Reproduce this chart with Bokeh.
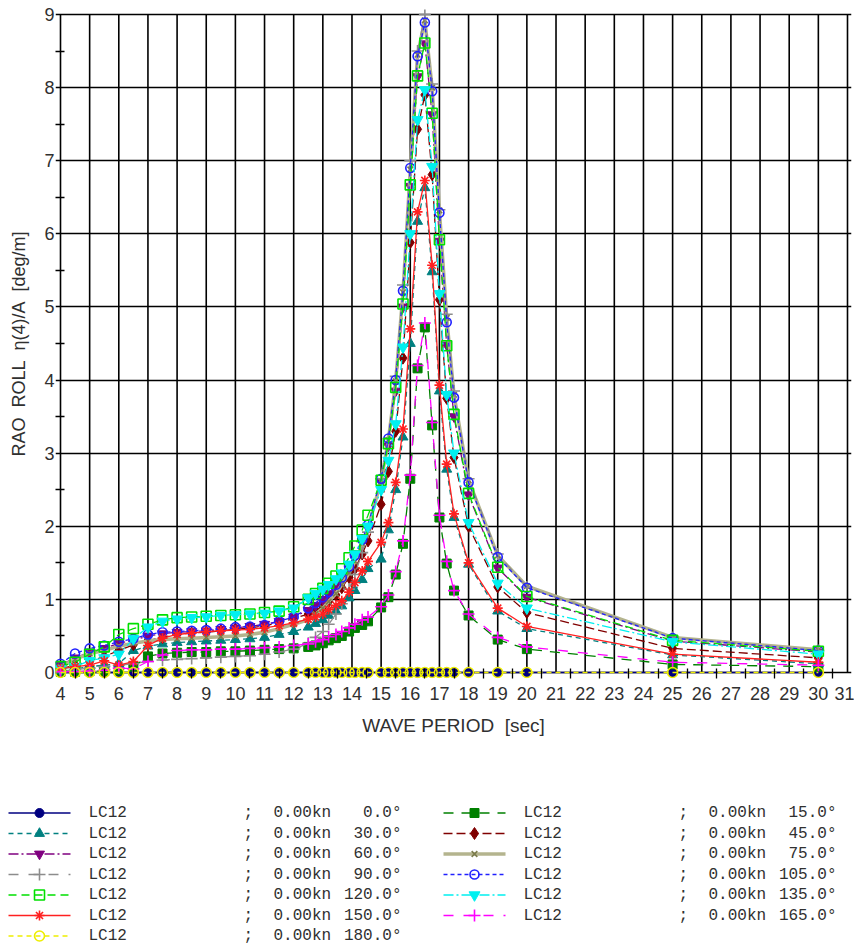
from bokeh.plotting import figure
from bokeh.models import Range1d, FixedTicker
from bokeh.layouts import column
from bokeh.embed import file_html
from bokeh.resources import INLINE
from bokeh.core.properties import value

# ---------------- data ----------------
PERIOD = [4, 4.5, 5, 5.5, 6, 6.5, 7, 7.5, 8, 8.5, 9, 9.5, 10, 10.5, 11, 11.5, 12,
          12.5, 12.75, 13, 13.2, 13.45, 13.65, 13.9, 14.1, 14.35, 14.55,
          15, 15.25, 15.5, 15.75, 16, 16.25, 16.5, 16.75, 17, 17.25, 17.5,
          18, 19, 20, 25, 30]

RAO_000 = [0, 0, 0, 0, 0, 0, 0, 0, 0, 0, 0, 0, 0, 0, 0, 0, 0,
           0, 0, 0, 0, 0, 0, 0, 0, 0, 0,
           0, 0, 0, 0, 0, 0, 0, 0, 0, 0, 0,
           0, 0, 0, 0, 0]
RAO_015 = [0.01, 0.01, 0.02, 0.02, 0.03, 0.08, 0.22, 0.26, 0.27, 0.28, 0.28, 0.29, 0.29, 0.30, 0.31, 0.32, 0.33,
           0.35, 0.37, 0.40, 0.44, 0.47, 0.50, 0.56, 0.61, 0.65, 0.70,
           0.89, 1.03, 1.34, 1.76, 2.65, 4.16, 4.72, 3.38, 2.12, 1.49, 1.12,
           0.78, 0.45, 0.32, 0.11, 0.08]
RAO_030 = [0.03, 0.05, 0.08, 0.10, 0.12, 0.30, 0.36, 0.39, 0.41, 0.42, 0.43, 0.44, 0.45, 0.46, 0.48, 0.52, 0.56,
           0.62, 0.67, 0.72, 0.78, 0.84, 0.91, 1.02, 1.12, 1.27, 1.42,
           1.55, 1.95, 2.50, 3.22, 4.50, 6.17, 6.63, 5.48, 3.85, 2.78, 2.12,
           1.48, 0.84, 0.60, 0.24, 0.12]
RAO_045 = [0.05, 0.10, 0.15, 0.22, 0.30, 0.38, 0.44, 0.48, 0.52, 0.54, 0.55, 0.57, 0.59, 0.61, 0.64, 0.68, 0.74,
           0.80, 0.85, 0.90, 0.97, 1.06, 1.16, 1.30, 1.42, 1.62, 1.80,
           2.30, 2.75, 3.30, 4.30, 5.88, 7.43, 7.90, 6.81, 5.10, 3.75, 2.94,
           2.00, 1.17, 0.82, 0.33, 0.20]
RAO_060 = [0.10, 0.20, 0.28, 0.33, 0.40, 0.44, 0.50, 0.53, 0.55, 0.56, 0.57, 0.59, 0.61, 0.63, 0.66, 0.70, 0.76,
           0.85, 0.92, 1.00, 1.08, 1.18, 1.28, 1.42, 1.58, 1.80, 2.00,
           2.60, 3.10, 3.85, 5.00, 6.65, 8.15, 8.60, 7.63, 5.90, 4.48, 3.50,
           2.43, 1.43, 1.03, 0.43, 0.28]
RAO_075 = [0.08, 0.18, 0.26, 0.30, 0.36, 0.40, 0.43, 0.45, 0.46, 0.47, 0.48, 0.49, 0.50, 0.52, 0.55, 0.60, 0.66,
           0.72, 0.80, 0.88, 0.97, 1.08, 1.20, 1.36, 1.52, 1.76, 1.98,
           2.62, 3.18, 3.98, 5.20, 6.88, 8.45, 8.92, 8.00, 6.32, 4.85, 3.80,
           2.63, 1.60, 1.18, 0.48, 0.31]
RAO_090 = [0.02, 0.04, 0.06, 0.08, 0.10, 0.12, 0.15, 0.17, 0.18, 0.19, 0.20, 0.21, 0.22, 0.23, 0.25, 0.28, 0.32,
           0.40, 0.48, 0.56, 0.66, 0.80, 0.94, 1.14, 1.34, 1.64, 1.92,
           2.65, 3.20, 4.05, 5.30, 7.00, 8.50, 9.00, 8.05, 6.33, 4.90, 3.85,
           2.65, 1.62, 1.17, 0.48, 0.30]
RAO_105 = [0.12, 0.26, 0.33, 0.37, 0.42, 0.46, 0.52, 0.55, 0.56, 0.57, 0.58, 0.60, 0.62, 0.63, 0.65, 0.70, 0.76,
           0.88, 0.95, 1.03, 1.10, 1.20, 1.30, 1.45, 1.60, 1.82, 2.02,
           2.65, 3.20, 4.00, 5.22, 6.90, 8.43, 8.89, 7.95, 6.29, 4.79, 3.76,
           2.60, 1.58, 1.16, 0.47, 0.30]
RAO_120 = [0.08, 0.14, 0.25, 0.35, 0.52, 0.60, 0.66, 0.72, 0.75, 0.76, 0.77, 0.78, 0.79, 0.80, 0.82, 0.84, 0.90,
           1.00, 1.08, 1.15, 1.22, 1.32, 1.42, 1.57, 1.73, 1.95, 2.15,
           2.63, 3.13, 3.90, 5.04, 6.67, 8.16, 8.61, 7.65, 5.92, 4.47, 3.53,
           2.45, 1.44, 1.04, 0.44, 0.29]
RAO_135 = [0.05, 0.08, 0.16, 0.20, 0.25, 0.46, 0.62, 0.70, 0.73, 0.75, 0.76, 0.78, 0.79, 0.80, 0.81, 0.84, 0.88,
           1.02, 1.08, 1.14, 1.20, 1.28, 1.36, 1.48, 1.62, 1.83, 2.00,
           2.50, 2.90, 3.40, 4.45, 6.00, 7.56, 7.97, 6.92, 5.18, 3.80, 3.00,
           2.05, 1.22, 0.88, 0.42, 0.25]
RAO_150 = [0.05, 0.08, 0.10, 0.16, 0.10, 0.15, 0.37, 0.47, 0.52, 0.54, 0.56, 0.57, 0.58, 0.59, 0.61, 0.64, 0.68,
           0.73, 0.76, 0.80, 0.86, 0.92, 0.98, 1.10, 1.23, 1.39, 1.52,
           1.78, 2.05, 2.60, 3.33, 4.70, 6.30, 6.73, 5.57, 3.93, 2.85, 2.17,
           1.50, 0.88, 0.63, 0.25, 0.14]
RAO_165 = [0.01, 0.01, 0.02, 0.03, 0.06, 0.05, 0.15, 0.24, 0.30, 0.31, 0.31, 0.32, 0.32, 0.33, 0.34, 0.35, 0.37,
           0.39, 0.42, 0.45, 0.49, 0.52, 0.56, 0.61, 0.66, 0.72, 0.76,
           0.90, 1.06, 1.38, 1.80, 2.70, 4.20, 4.78, 3.42, 2.15, 1.52, 1.12,
           0.80, 0.48, 0.35, 0.14, 0.10]
RAO_180 = [0, 0, 0, 0, 0, 0, 0, 0, 0, 0, 0, 0, 0, 0, 0, 0, 0,
           0, 0, 0, 0, 0, 0, 0, 0, 0, 0,
           0, 0, 0, 0, 0, 0, 0, 0, 0, 0, 0,
           0, 0, 0, 0, 0]

HEADINGS = [0, 15, 30, 45, 60, 75, 90, 105, 120, 135, 150, 165, 180]
SERIES = [RAO_000, RAO_015, RAO_030, RAO_045, RAO_060, RAO_075, RAO_090,
          RAO_105, RAO_120, RAO_135, RAO_150, RAO_165, RAO_180]
CASE_NAME = "LC12"
SPEED = "0.00kn"
LEG_LEFT = [0, 30, 60, 90, 120, 150, 180]
LEG_RIGHT = [15, 45, 75, 105, 135, 165]

X_TICKS = list(range(4, 32))
X_MINOR = [t + 0.5 for t in range(4, 31)]
Y_TICKS = list(range(0, 10))
Y_MINOR = [t + 0.5 for t in range(0, 9)]
X_LABEL = "WAVE PERIOD\u00a0 [sec]"
Y_LABEL = "RAO\u00a0 ROLL\u00a0 \u03b7(4)/A\u00a0 [deg/m]"

# ---------------- styles ----------------
STYLE = {
    0:   dict(color="#000080", dash="solid",    lw=1.3, marker="circle",            size=9,  fill=True),
    15:  dict(color="#008000", dash="10 8",     lw=1.3, marker="square",            size=9,  fill=True),
    30:  dict(color="#008080", dash="5 4",      lw=1.3, marker="triangle",          size=10, fill=True),
    45:  dict(color="#800000", dash="9 4",      lw=1.3, marker="diamond",           size=12, fill=True),
    60:  dict(color="#800080", dash="10 3 2 3", lw=1.3, marker="inverted_triangle", size=10, fill=True),
    75:  dict(color="#b4b48e", dash="solid",    lw=3.5, marker="x",                 size=8,  fill=False, mcolor="#7c7c4c"),
    90:  dict(color="#8c8c8c", dash="10 10",    lw=1.3, marker="cross",             size=12, fill=False),
    105: dict(color="#2020ff", dash="4 3",      lw=1.3, marker="circle",            size=9,  fill=False),
    120: dict(color="#00e000", dash="8 5",      lw=1.3, marker="square",            size=10, fill=False),
    135: dict(color="#00f0f0", dash="10 3 2 3", lw=1.3, marker="inverted_triangle", size=11, fill=True),
    150: dict(color="#ff2020", dash="solid",    lw=1.3, marker="asterisk",          size=10, fill=False),
    165: dict(color="#ff00ff", dash="10 10",    lw=1.3, marker="cross",             size=12, fill=False),
    180: dict(color="#eeee00", dash="5 4",      lw=1.5, marker="circle",            size=10, fill=False),
}

TXT = "#303030"
FONT = "Liberation Sans"
MONO = "Liberation Mono"

# ---------------- main figure ----------------
W, H = 854, 768
BL, BR, BT, BB = 55, 3, 9, 90
PAD_L, PAD_R, PAD_T, PAD_B = 5, 4, 5, 6
fw = W - BL - BR
fh = H - BT - BB
ux = (fw - PAD_L - PAD_R) / (X_TICKS[-1] - X_TICKS[0])
uy = (fh - PAD_T - PAD_B) / (Y_TICKS[-1] - Y_TICKS[0])

p = figure(width=W, height=H,
           x_range=Range1d(X_TICKS[0] - PAD_L / ux, X_TICKS[-1] + PAD_R / ux),
           y_range=Range1d(Y_TICKS[0] - PAD_B / uy, Y_TICKS[-1] + PAD_T / uy),
           toolbar_location=None, output_backend="svg",
           min_border_left=BL, min_border_right=BR, min_border_top=BT, min_border_bottom=BB)
p.frame_align = False
p.outline_line_color = None
p.background_fill_color = "white"
p.border_fill_color = "white"

p.xgrid.visible = False
p.ygrid.ticker = FixedTicker(ticks=Y_TICKS)
p.ygrid.grid_line_color = "black"
p.ygrid.grid_line_width = 1.6

# vertical grid lines, bounded to the data frame 0..9
p.segment(x0=X_TICKS, y0=[Y_TICKS[0]] * len(X_TICKS), x1=X_TICKS, y1=[Y_TICKS[-1]] * len(X_TICKS),
          line_color="black", line_width=1.6)

xa = p.xaxis[0]
xa.ticker = FixedTicker(ticks=X_TICKS, minor_ticks=X_MINOR)
xa.axis_line_color = None
xa.major_tick_in = 0
xa.major_tick_out = 0
xa.minor_tick_in = 10
xa.minor_tick_out = 0
xa.minor_tick_line_color = "black"
xa.minor_tick_line_width = 1.3
xa.major_label_standoff = 8
xa.major_label_text_font = FONT
xa.major_label_text_font_size = "18px"
xa.major_label_text_color = TXT
xa.axis_label = X_LABEL
xa.axis_label_standoff = 12
xa.axis_label_text_font = FONT
xa.axis_label_text_font_size = "19px"
xa.axis_label_text_font_style = "normal"
xa.axis_label_text_color = TXT

ya = p.yaxis[0]
ya.ticker = FixedTicker(ticks=Y_TICKS, minor_ticks=Y_MINOR)
ya.axis_line_color = None
ya.major_tick_in = 0
ya.major_tick_out = 0
ya.minor_tick_in = 9
ya.minor_tick_out = 0
ya.minor_tick_line_color = "black"
ya.minor_tick_line_width = 1.3
ya.major_label_standoff = 1
ya.major_label_text_font = FONT
ya.major_label_text_font_size = "18px"
ya.major_label_text_color = TXT
ya.axis_label = Y_LABEL
ya.axis_label_standoff = 12
ya.axis_label_text_font = FONT
ya.axis_label_text_font_size = "18px"
ya.axis_label_text_font_style = "normal"
ya.axis_label_text_color = TXT


def draw_marker(fig, xs, ys, st):
    mc = st.get("mcolor", st["color"])
    return fig.scatter(xs, ys, marker=st["marker"], size=st["size"],
                       line_color=mc, line_width=1.0 if st["fill"] else 1.6,
                       fill_color=mc if st["fill"] else None)


for h, vals in zip(HEADINGS, SERIES):
    st = STYLE[h]
    p.line(PERIOD, vals, line_color=st["color"], line_width=st["lw"], line_dash=st["dash"])
    draw_marker(p, PERIOD, vals, st)

# ---------------- legend figure (pixel coordinates) ----------------
LW, LH = 854, 945 - H
leg = figure(width=LW, height=LH, x_range=Range1d(0, LW), y_range=Range1d(LH, 0),
             toolbar_location=None, output_backend="svg", x_axis_type=None, y_axis_type=None,
             min_border=0)
leg.frame_align = False
leg.outline_line_color = None
leg.grid.visible = False
leg.background_fill_color = "white"
leg.border_fill_color = "white"

ROW0 = 812.5 - H
ROWSTEP = 20.5
COLX = [8, 443]
tx, ty, tt, ax, ay, at = [], [], [], [], [], []
for ci, heads in enumerate([LEG_LEFT, LEG_RIGHT]):
    bx = COLX[ci]
    for r, h in enumerate(heads):
        y = ROW0 + ROWSTEP * r
        st = STYLE[h]
        leg.line([bx, bx + 62], [y, y], line_color=st["color"], line_width=st["lw"], line_dash=st["dash"])
        draw_marker(leg, [bx + 31], [y], st)
        for off, s in [(80, CASE_NAME), (235, ";"), (265, SPEED)]:
            tx.append(bx + off); ty.append(y); tt.append(s)
        ax.append(bx + 393); ay.append(y); at.append(f"{h:.1f}\u00b0")

leg.text(tx, ty, text=tt, text_font=value(MONO), text_font_size="16px", text_color=TXT,
         text_baseline="middle", text_align="left")
leg.text(ax, ay, text=at, text_font=value(MONO), text_font_size="16px", text_color=TXT,
         text_baseline="middle", text_align="right")

layout = column(p, leg, spacing=0)
open("out.html", "w").write(file_html(layout, INLINE))
